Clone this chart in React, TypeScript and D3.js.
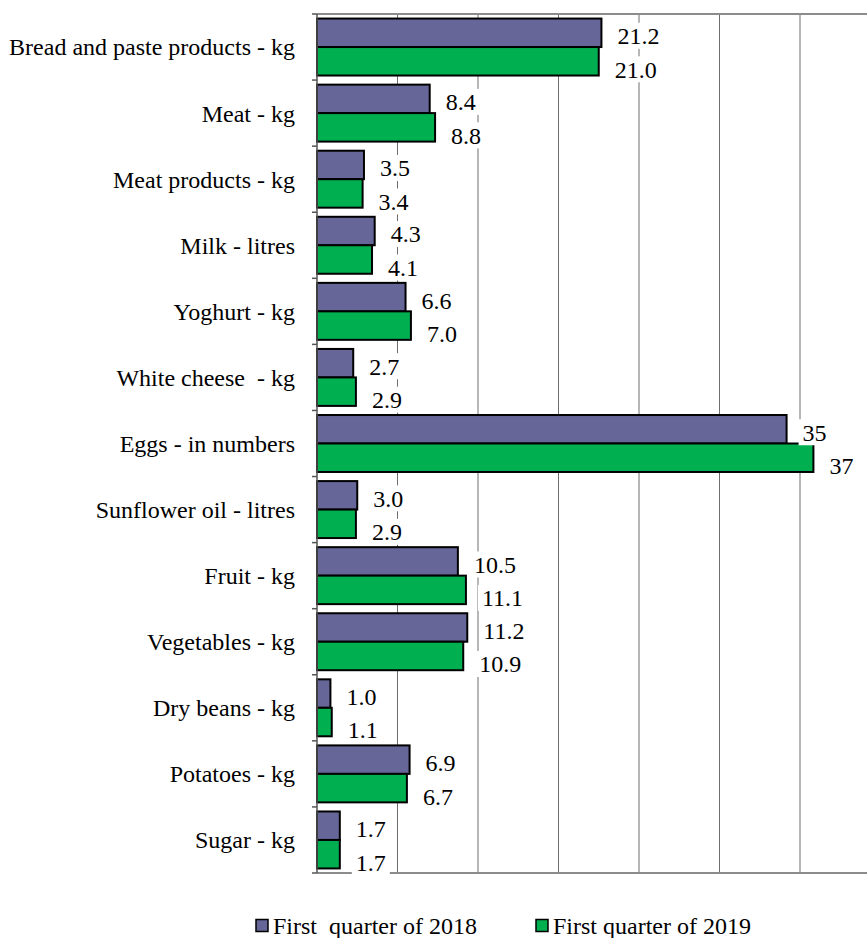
import * as React from "react";
import * as d3 from "d3";

const categories = [
  "Bread and paste products - kg",
  "Meat - kg",
  "Meat products - kg",
  "Milk - litres",
  "Yoghurt - kg",
  "White cheese  - kg",
  "Eggs - in numbers",
  "Sunflower oil - litres",
  "Fruit - kg",
  "Vegetables - kg",
  "Dry beans - kg",
  "Potatoes - kg",
  "Sugar - kg",
];

const series = ["First  quarter of 2018", "First quarter of 2019"];

const q2018 = [21.2, 8.4, 3.5, 4.3, 6.6, 2.7, 35, 3.0, 10.5, 11.2, 1.0, 6.9, 1.7];
const q2019 = [21.0, 8.8, 3.4, 4.1, 7.0, 2.9, 37, 2.9, 11.1, 10.9, 1.1, 6.7, 1.7];

const labels2018 = ["21.2", "8.4", "3.5", "4.3", "6.6", "2.7", "35", "3.0", "10.5", "11.2", "1.0", "6.9", "1.7"];
const labels2019 = ["21.0", "8.8", "3.4", "4.1", "7.0", "2.9", "37", "2.9", "11.1", "10.9", "1.1", "6.7", "1.7"];

const xTicks = [0, 6, 12, 18, 24, 30, 36, 42];

const colors = ["#666699", "#00B050"];
const font = "'Liberation Serif', 'Times New Roman', serif";

export default function App() {
  const width = 867;
  const height = 938;
  const left = 317;
  const top = 14;
  const bottom = 873;

  const x = d3.scaleLinear().domain([0, 42]).range([left, left + 7 * 80.5]);
  const y = d3.scaleBand().domain(categories).range([top, bottom]).padding(0);
  const inner = d3
    .scaleBand()
    .domain(series)
    .range([0, y.bandwidth()])
    .paddingInner(0)
    .paddingOuter(0.16);

  const values = [q2018, q2019];
  const texts = [labels2018, labels2019];
  const labelNudge = [3, 8];
  const fs = 24;

  return (
    <svg
      width={width}
      height={height}
      style={{ position: "absolute", left: 0, top: 0, background: "#fff" }}
      fontFamily={font}
    >
      {/* grid */}
      {xTicks.slice(1).map((t) => (
        <line key={t} x1={x(t)} x2={x(t)} y1={top} y2={bottom} stroke="#6e6e6e" strokeWidth={1} />
      ))}
      <line x1={left} x2={width} y1={top} y2={top} stroke="#8c8c8c" strokeWidth={2} />
      <line x1={left} x2={width} y1={bottom} y2={bottom} stroke="#8c8c8c" strokeWidth={2} />

      {/* bars */}
      {categories.map((c, i) =>
        series.map((s, j) => (
          <rect
            key={c + s}
            x={x(0)}
            y={(y(c) as number) + (inner(s) as number)}
            width={x(values[j][i]) - x(0)}
            height={inner.bandwidth()}
            fill={colors[j]}
            stroke="#000"
            strokeWidth={2}
          />
        ))
      )}

      {/* value labels with white boxes */}
      {categories.map((c, i) =>
        series.map((s, j) => {
          const cy = (y(c) as number) + (inner(s) as number) + inner.bandwidth() / 2 + labelNudge[j];
          const tx = x(values[j][i]) + 16;
          const w = texts[j][i].replace(".", "").length * 12 + (texts[j][i].includes(".") ? 6 : 0);
          return (
            <g key={"l" + c + s}>
              <rect x={tx - 4} y={cy - 13} width={w + 8} height={26} fill="#fff" />
              <text x={tx} y={cy} dy="0.35em" fontSize={fs} fill="#000">
                {texts[j][i]}
              </text>
            </g>
          );
        })
      )}

      {/* left axis */}
      <line x1={left} x2={left} y1={top} y2={bottom} stroke="#555" strokeWidth={1.5} />
      {categories.map((c) => (
        <line key={"t" + c} x1={left - 5} x2={left} y1={y(c) as number} y2={y(c) as number} stroke="#555" strokeWidth={1.5} />
      ))}
      <line x1={left - 5} x2={left} y1={bottom} y2={bottom} stroke="#555" strokeWidth={1.5} />

      {categories.map((c) => (
        <text
          key={"c" + c}
          x={295}
          y={(y(c) as number) + y.bandwidth() / 2}
          dy="0.35em"
          textAnchor="end"
          fontSize={fs}
          fill="#000"
          style={{ whiteSpace: "pre" }}
        >
          {c}
        </text>
      ))}

      {/* legend */}
      {series.map((s, j) => {
        const lx = [256, 536][j];
        return (
          <g key={"lg" + s}>
            <rect x={lx} y={919.5} width={12} height={12} fill={colors[j]} stroke="#000" strokeWidth={1.5} />
            <text x={lx + 17} y={926} dy="0.35em" fontSize={fs} fill="#000" style={{ whiteSpace: "pre" }}>
              {s}
            </text>
          </g>
        );
      })}
    </svg>
  );
}
